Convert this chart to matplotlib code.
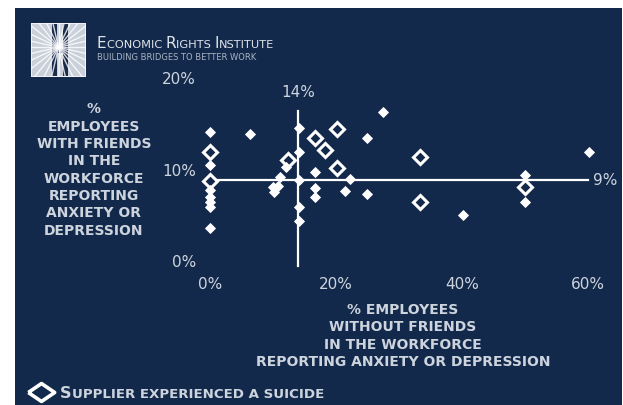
import matplotlib
matplotlib.use('Agg')
import matplotlib.pyplot as plt
from matplotlib.patches import Rectangle
from matplotlib.lines import Line2D
import numpy as np

# suppliers without a suicide (filled diamonds)
x_plain = [0, 0, 0, 0, 0, 0, 0, 6.4, 14.2, 14.2, 14.2, 14.2, 14.2, 27.4, 25.0, 12.1,
           16.7, 16.7, 16.7, 22.3, 11.1, 10.8, 10.0, 10.2, 21.5, 25.0, 40.1, 50.0, 50.0, 60.2]
y_plain = [14.2, 10.6, 7.9, 7.2, 6.6, 6.1, 3.8, 14.0, 14.7, 12.1, 9.0, 6.1, 4.6, 16.4, 13.6, 10.4,
           9.9, 8.2, 7.2, 9.1, 9.3, 8.4, 8.3, 7.7, 7.8, 7.5, 5.2, 9.6, 6.6, 12.1]

# suppliers that experienced a suicide (hollow diamonds)
x_suicide = [0, 0, 12.4, 16.7, 20.2, 18.2, 20.1, 33.3, 33.3, 50.0]
y_suicide = [12.1, 8.9, 11.2, 13.6, 14.6, 12.3, 10.3, 11.5, 6.6, 8.3]

x_ticks = [0, 20, 40, 60]
y_ticks = [0, 10, 20]
x_avg = 14   # avg of employees without friends
y_avg = 9    # avg of employees with friends

NAVY = '#13294b'
TXT = '#cdd4de'
W, H = 623, 405

fig = plt.figure(figsize=(W / 100, H / 100), dpi=100, facecolor='white')


def fx(px):
    return px / W


def fy(py):
    return 1 - py / H


# dark panel
fig.patches.append(Rectangle((fx(15), 0), fx(622) - fx(15), fy(8), transform=fig.transFigure,
                             facecolor=NAVY, edgecolor='none', zorder=-5))

# logo
lax = fig.add_axes([fx(31), fy(77), fx(86) - fx(31), (77 - 23) / H])
lax.set_xlim(0, 1)
lax.set_ylim(0, 1)
lax.axis('off')
lax.add_patch(Rectangle((0, 0), 1, 1, facecolor='#c9d0da', edgecolor='none'))
for a in np.linspace(0, 2 * np.pi, 28, endpoint=False):
    lax.plot([0.5, 0.5 + np.cos(a)], [0.55, 0.55 + np.sin(a)], color='white', lw=1.0, alpha=0.8)
lax.add_patch(Rectangle((0.38, 0.02), 0.10, 0.96, facecolor='#1a2c4c', edgecolor='none'))
lax.add_patch(Rectangle((0.58, 0.02), 0.10, 0.96, facecolor='#1a2c4c', edgecolor='none'))
lax.add_patch(Rectangle((0.38, 0.45), 0.30, 0.07, facecolor='#1a2c4c', edgecolor='none'))
lax.add_patch(Rectangle((0, 0), 1, 1, facecolor='none', edgecolor='#eef1f5', lw=1.5))

renderer = fig.canvas.get_renderer()


def small_caps(x, y, parts, color=TXT, weight='normal'):
    # draw text pieces one after another on a shared baseline (pixel coords)
    for s, size in parts:
        t = fig.text(fx(x), fy(y), s, fontsize=size, color=color, ha='left', va='baseline',
                     fontweight=weight)
        x += t.get_window_extent(renderer).width


small_caps(97, 48, [('E', 11), ('CONOMIC ', 8.2), ('R', 11), ('IGHTS ', 8.2),
                    ('I', 11), ('NSTITUTE', 8.2)], color='#dfe4ea')
fig.text(fx(97), fy(60), 'BUILDING BRIDGES TO BETTER WORK', fontsize=6, color='#aab4c2',
         ha='left', va='baseline')

# main plot area
ax = fig.add_axes([178.5 / W, 133 / H, 441 / W, 202 / H])
ax.set_xlim(-5, 65)
ax.set_ylim(-1, 21)
ax.axis('off')

ax.plot([0, 60], [y_avg, y_avg], color='white', lw=1.6, zorder=2)
ax.plot([x_avg, x_avg], [-0.4, 16.5], color='white', lw=1.6, zorder=2)

ax.plot(x_suicide, y_suicide, 'D', ms=6.8, mfc=NAVY, mec='white', mew=2.2, ls='none', zorder=3)
ax.plot(x_plain, y_plain, 'D', ms=5.0, color='white', mec='white', mew=0.6, ls='none', zorder=4)

for v in x_ticks:
    ax.text(v, -2.4, f'{v}%', ha='center', va='center', fontsize=11, color=TXT)
for v in y_ticks:
    ax.text(-2.2, v, f'{v}%', ha='right', va='center', fontsize=11, color=TXT)

ax.text(x_avg, 18.5, f'{x_avg}%', ha='center', va='center', fontsize=11, color=TXT)
ax.text(60.8, y_avg, f'{y_avg}%', ha='left', va='center', fontsize=11, color=TXT)

fig.text(fx(94), fy(170), '%\nEMPLOYEES\nWITH FRIENDS\nIN THE\nWORKFORCE\nREPORTING\nANXIETY OR\nDEPRESSION',
         ha='center', va='center', fontsize=10, fontweight='bold', color=TXT, linespacing=1.3)
fig.text(fx(403), fy(336), '% EMPLOYEES\nWITHOUT FRIENDS\nIN THE WORKFORCE\nREPORTING ANXIETY OR DEPRESSION',
         ha='center', va='center', fontsize=10, fontweight='bold', color=TXT, linespacing=1.3)

# legend
diamond = [(-1, 0), (0, 0.68), (1, 0), (0, -0.68), (-1, 0)]
fig.add_artist(Line2D([fx(41)], [fy(392)], marker=diamond, ms=19, mfc=NAVY, mec='white', mew=2.6,
                      ls='none', transform=fig.transFigure))
small_caps(60, 398, [('S', 11.5), ('UPPLIER EXPERIENCED A SUICIDE', 9.6)], weight='bold')

fig.savefig('out.png', dpi=100, facecolor='white')
